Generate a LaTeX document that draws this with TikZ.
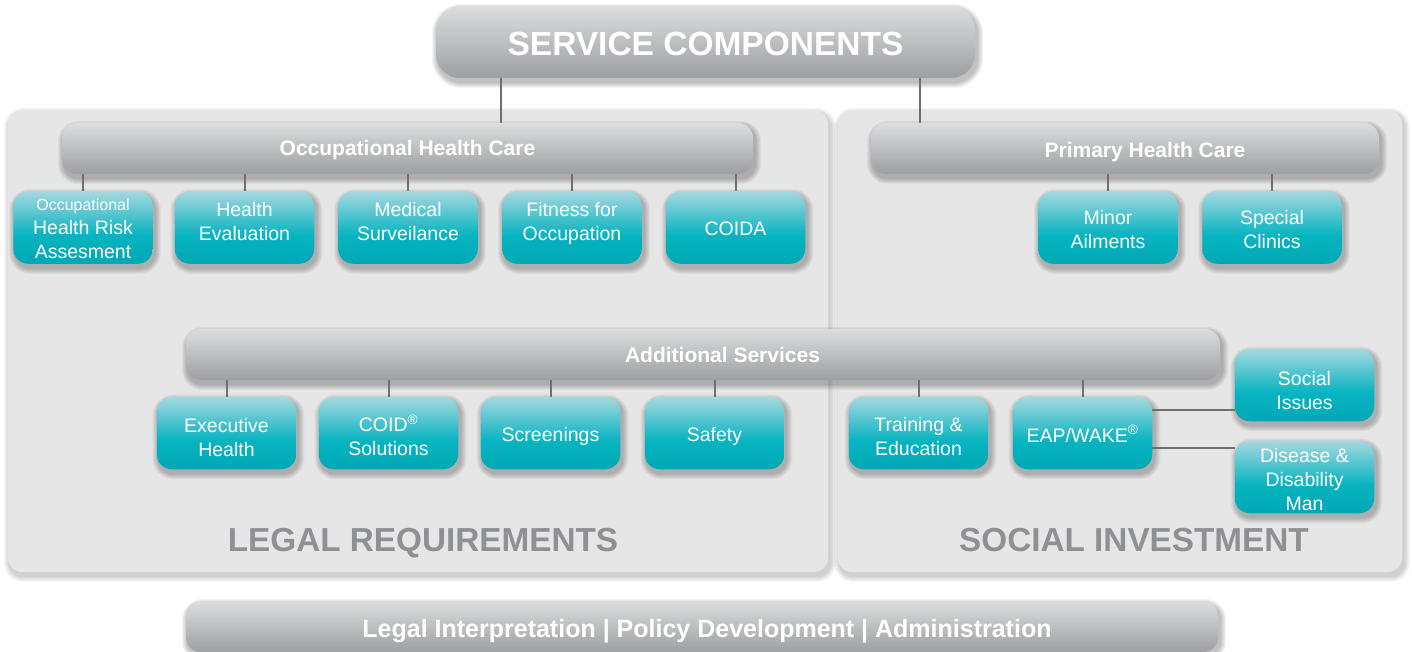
\documentclass[tikz,border=0pt]{standalone}
\usepackage{fontspec}
\setmainfont{Liberation Sans}
\usetikzlibrary{calc}
\definecolor{tealtop}{HTML}{A6D8DF}
\definecolor{tealmid}{HTML}{08B4C1}
\definecolor{tealbot}{HTML}{00A8B5}
\definecolor{graytop}{HTML}{DCDDDF}
\definecolor{graybot}{HTML}{9E9FA2}
\definecolor{panelc}{HTML}{E6E6E6}
\definecolor{linec}{HTML}{6E6F72}
\definecolor{sectc}{HTML}{8F9093}
\pgfdeclareverticalshading{tealshade}{100bp}{color(0bp)=(tealbot); color(25bp)=(tealbot); color(45bp)=(tealmid); color(75bp)=(tealtop); color(100bp)=(tealtop)}
\pgfdeclareverticalshading{grayshade}{100bp}{color(0bp)=(graybot); color(25bp)=(graybot); color(75bp)=(graytop); color(100bp)=(graytop)}
\pgfdeclarelayer{back}
\pgfdeclarelayer{panels}
\pgfdeclarelayer{lines}
\pgfsetlayers{back,panels,lines,main}
\newcommand\tx[2]{\raisebox{#1}[\height][\depth]{\begin{tabular}{@{}c@{}}#2\end{tabular}}}
\newcommand\rz[2]{\raisebox{#1}[\height][\depth]{#2}}
\newcommand\boxshadow[3]{%
  \foreach \s in {1,...,6}{%
    \pgfmathsetmacro\rrad{#2+\s}%
    \fill[black, opacity=#3, rounded corners=\rrad pt]
      ($(#1.north west)+(2-\s,4-\s)$) rectangle ($(#1.south east)+(2+\s,4+\s)$);
  }}
\tikzset{
  titlebox/.style={rectangle, rounded corners=24pt, shade, shading=grayshade, minimum width=539pt, minimum height=72pt, text=white, font=\fontsize{33.5}{40}\selectfont\bfseries, inner sep=0pt},
  bar/.style={rectangle, rounded corners=15pt, shade, shading=grayshade, minimum height=51pt, text=white, font=\fontsize{21}{25}\selectfont\bfseries, inner sep=0pt},
  tbox/.style={rectangle, rounded corners=15pt, shade, shading=tealshade, minimum width=139.5pt, minimum height=72.5pt, text=white, font=\fontsize{19.5}{24}\selectfont, inner sep=0pt},
  panel/.style={rectangle, rounded corners=14pt, fill=panelc, minimum height=462pt, inner sep=0pt},
  conn/.style={draw=linec, line width=2pt},
  sect/.style={text=sectc, font=\fontsize{33.3}{38}\selectfont\bfseries, inner sep=0pt, anchor=base},
}
\begin{document}
\begin{tikzpicture}[x=1pt,y=-1pt]
\useasboundingbox (0,0) rectangle (1412,652);
\begin{pgfonlayer}{back}
  \fill[white] (0,0) rectangle (1412,652);
\end{pgfonlayer}
\begin{pgfonlayer}{panels}
  \node[panel, minimum width=820pt] (pl) at (418,341) {};
  \node[panel, minimum width=564pt] (pr) at (1120,341) {};
\end{pgfonlayer}

% title
\node[titlebox] (title) at (705.5,42) {\rz{-2pt}{SERVICE COMPONENTS}};

% group bars
\node[bar, minimum width=691pt] (ohc) at (407.5,148.5) {\rz{-2pt}{Occupational Health Care}};
\node[bar, minimum width=508pt] (phc) at (1125,148.5) {\hspace*{40pt}\rz{-4pt}{Primary Health Care}};
\node[bar, minimum width=1034pt] (as) at (703,354.5) {\hspace*{39pt}Additional Services};
\node[bar, minimum width=1032pt, font=\fontsize{25}{28}\selectfont\bfseries] (bot) at (702,626.5) {\hspace*{10pt}\rz{-5pt}{Legal Interpretation | Policy Development | Administration}};

% occupational health children
\node[tbox] (ohr) at (83,227.5) {\tx{-2.5pt}{{\fontsize{16}{24}\selectfont Occupational}\\Health Risk\\Assesment}};
\node[tbox] (he) at (244.5,227.5) {\tx{4pt}{Health\\Evaluation}};
\node[tbox] (ms) at (408,227.5) {\tx{4pt}{Medical\\Surveilance}};
\node[tbox] (ffo) at (572,227.5) {\tx{4pt}{Fitness for\\Occupation}};
\node[tbox] (coida) at (735.5,227.5) {\tx{-3.5pt}{COIDA}};

% primary health children
\node[tbox] (ma) at (1108,227.5) {\tx{-4pt}{Minor\\Ailments}};
\node[tbox] (sc) at (1272,227.5) {\tx{-4pt}{Special\\Clinics}};

% additional services children
\node[tbox] (exh) at (226.5,433) {\tx{-6.5pt}{Executive\\Health}};
\node[tbox] (coid) at (388.5,433) {\tx{-6pt}{COID\textsuperscript{®}\\Solutions}};
\node[tbox] (scr) at (550.5,433) {\tx{-3.5pt}{Screenings}};
\node[tbox] (saf) at (714.5,433) {\tx{-4pt}{Safety}};
\node[tbox] (tre) at (918.5,433) {\tx{-6pt}{Training \&\\Education}};
\node[tbox] (eap) at (1082.5,433) {\tx{-4.5pt}{EAP/WAKE\textsuperscript{®}}};
\node[tbox] (soc) at (1304.5,385) {\tx{-7.5pt}{Social\\Issues}};
\node[tbox] (dis) at (1304.5,477) {\tx{-4.5pt}{Disease \&\\Disability\\Man}};

% section labels
\node[sect] (lr) at (423,551) {LEGAL REQUIREMENTS};
\node[sect] (si) at (1134,551) {SOCIAL INVESTMENT};

% shadows
\begin{pgfonlayer}{back}
  \boxshadow{pl}{14}{0.03}
  \boxshadow{pr}{14}{0.03}
\end{pgfonlayer}
\begin{pgfonlayer}{lines}
  \boxshadow{title}{24}{0.045}
  \foreach \n in {ohc,phc,as,bot}{\boxshadow{\n}{15}{0.045}}
  \foreach \n in {ohr,he,ms,ffo,coida,ma,sc,exh,coid,scr,saf,tre,eap,soc,dis}{\boxshadow{\n}{15}{0.045}}
\end{pgfonlayer}

% connectors
\begin{pgfonlayer}{lines}
  \draw[conn] (title.south -| 501,0) -- (ohc.north -| 501,0);
  \draw[conn] (title.south -| 920,0) -- (phc.north -| 920,0);
  \foreach \c in {ohr,he,ms,ffo,coida}
    \draw[conn] (\c.north) -- (\c.north |- ohc.south);
  \foreach \c in {ma,sc}
    \draw[conn] (\c.north) -- (\c.north |- phc.south);
  \foreach \c in {exh,coid,scr,saf,tre,eap}
    \draw[conn] (\c.north) -- (\c.north |- as.south);
  \draw[conn] (eap.east |- 0,410) -- (soc.west |- 0,410);
  \draw[conn] (eap.east |- 0,448) -- (dis.west |- 0,448);
\end{pgfonlayer}
\end{tikzpicture}
\end{document}
